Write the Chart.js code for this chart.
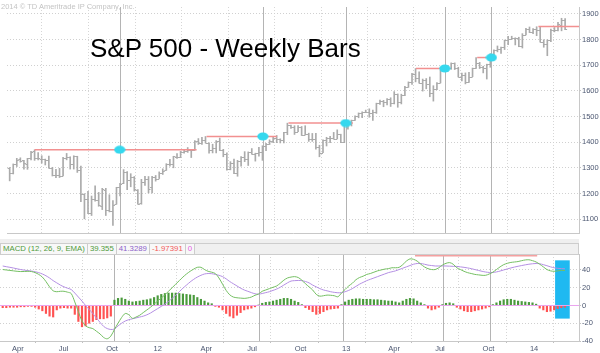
<!DOCTYPE html>
<html>
<head>
<meta charset="utf-8">
<script src="https://cdn.jsdelivr.net/npm/chart.js@4.4.1/dist/chart.umd.min.js"></script>
<style>
  body { margin: 0; background: #fff; }
  #wrap { position: relative; width: 600px; height: 353px; overflow: hidden; font-family: 'Liberation Sans', Arial, sans-serif; }
  #priceChart { position: absolute; left: 0; top: 0; }
  #macdChart { position: absolute; left: 0; top: 240px; }
  #title { position: absolute; left: 90px; top: 35px; font-size: 26px; line-height: 26px; color: #000; white-space: nowrap; }
  #copy { position: absolute; left: 1px; top: 3px; font-size: 7.5px; line-height: 8px; color: #c4c4c4; white-space: nowrap; }
  #sep { position: absolute; left: 0; top: 239px; width: 579px; height: 4px; background: #efefef; }
  #macdHead { position: absolute; left: 0; top: 243px; width: 577px; height: 10px; background: #f0f0f0; border: 1px solid #cdcdcd; font-size: 7.8px; line-height: 10px; display: flex; white-space: nowrap; }
  #macdHead span { padding: 0 2px; border-right: 1px solid #cdcdcd; background: #f8f8f8; }
</style>
</head>
<body>
<div id="wrap">
  <canvas id="priceChart" width="600" height="240"></canvas>
  <canvas id="macdChart" width="600" height="113"></canvas>
  <div id="copy">2014 © TD Ameritrade IP Company, Inc.</div>
  <div id="title">S&amp;P 500 - Weekly Bars</div>
  <div id="sep"></div>
  <div id="macdHead">
    <span style="color:#4f9a3a">MACD (12, 26, 9, EMA)</span>
    <span style="color:#4f9a3a">39.355</span>
    <span style="color:#8d62c9">41.3289</span>
    <span style="color:#f25a5a">-1.97391</span>
    <span style="color:#e25ee2">0</span>
  </div>
</div>
<script>
// weekly bars, index 0 = week of 14 Mar 2011
const openP = [1301,1281,1315,1333,1329,1314,1337,1365,1340,1334,
  1333,1332,1300,1272,1272,1269,1339,1343,1315,1345,
  1292,1199,1179,1124,1177,1173,1153,1214,1136,1131,
  1158,1224,1239,1284,1253,1263,1215,1161,1244,1256,
  1224,1265,1258,1278,1290,1315,1316,1344,1343,1361,
  1366,1370,1371,1404,1397,1408,1397,1370,1378,1403,
  1368,1352,1295,1318,1278,1325,1343,1335,1362,1355,
  1356,1362,1386,1391,1405,1418,1411,1407,1438,1466,
  1460,1441,1461,1428,1433,1411,1414,1380,1359,1409,
  1416,1418,1413,1430,1402,1466,1472,1486,1503,1513,
  1518,1519,1515,1518,1551,1560,1556,1569,1553,1588,
  1555,1582,1614,1633,1667,1650,1631,1643,1626,1593,
  1606,1631,1680,1692,1691,1709,1691,1655,1663,1633,
  1655,1688,1710,1692,1691,1703,1745,1759,1762,1771,
  1798,1804,1806,1805,1775,1818,1841,1831,1842,1838,
  1790,1783,1797,1838,1836,1857,1878];
const highP = [1301,1315,1337,1339,1329,1337,1364,1370,1359,1347,
  1334,1346,1302,1294,1298,1341,1356,1343,1347,1345,
  1307,1199,1208,1190,1230,1204,1220,1220,1195,1172,
  1224,1239,1293,1285,1277,1266,1215,1255,1267,1266,
  1267,1270,1284,1296,1316,1333,1345,1355,1364,1368,
  1379,1372,1406,1414,1419,1422,1397,1392,1406,1416,
  1372,1358,1324,1334,1329,1344,1363,1362,1375,1357,
  1380,1386,1395,1409,1419,1426,1413,1438,1474,1467,
  1464,1465,1461,1464,1435,1434,1434,1388,1409,1419,
  1423,1438,1448,1431,1466,1472,1486,1503,1514,1518,
  1525,1530,1525,1552,1564,1563,1570,1573,1597,1588,
  1587,1618,1635,1668,1687,1674,1646,1648,1654,1620,
  1632,1680,1693,1698,1709,1709,1692,1669,1670,1672,
  1689,1730,1711,1696,1704,1745,1760,1775,1771,1798,
  1813,1813,1807,1809,1823,1844,1849,1843,1850,1850,
  1799,1799,1841,1847,1867,1883,1882];
const lowP = [1249,1276,1305,1322,1295,1294,1331,1329,1331,1318,
  1311,1299,1268,1262,1262,1268,1331,1295,1295,1282,
  1168,1101,1121,1114,1170,1150,1137,1114,1128,1075,
  1158,1190,1238,1215,1226,1209,1158,1158,1231,1202,
  1202,1248,1258,1274,1290,1306,1300,1337,1340,1357,
  1360,1340,1369,1391,1391,1397,1357,1358,1358,1367,
  1343,1291,1292,1277,1267,1306,1324,1309,1353,1326,
  1345,1329,1367,1391,1398,1398,1397,1397,1429,1454,
  1430,1441,1426,1428,1403,1403,1373,1343,1359,1385,
  1398,1412,1413,1398,1398,1451,1463,1485,1495,1495,
  1515,1497,1485,1512,1547,1538,1545,1539,1549,1536,
  1549,1581,1614,1625,1635,1630,1599,1608,1577,1560,
  1605,1631,1675,1676,1684,1683,1654,1639,1627,1633,
  1655,1687,1687,1670,1646,1692,1740,1752,1746,1761,
  1780,1800,1779,1772,1767,1818,1827,1823,1815,1790,
  1770,1737,1792,1830,1834,1834,1839];
const closeP = [1279,1313,1332,1328,1319,1337,1363,1340,1338,1333,
  1331,1300,1271,1271,1268,1340,1344,1316,1345,1292,
  1199,1178,1124,1177,1174,1154,1216,1136,1131,1155,
  1224,1238,1285,1253,1263,1216,1159,1244,1255,1219,
  1265,1258,1278,1289,1315,1316,1345,1343,1361,1366,
  1370,1370,1404,1397,1408,1398,1370,1378,1403,1369,
  1353,1295,1318,1278,1325,1343,1335,1362,1355,1357,
  1362,1386,1391,1405,1418,1411,1407,1438,1466,1460,
  1441,1461,1428,1433,1411,1414,1380,1359,1409,1416,
  1418,1413,1430,1402,1466,1472,1486,1503,1513,1518,
  1519,1515,1518,1551,1560,1556,1569,1553,1588,1555,
  1582,1614,1633,1667,1650,1631,1643,1626,1593,1606,
  1631,1680,1692,1691,1709,1691,1655,1663,1633,1655,
  1688,1710,1692,1691,1703,1745,1759,1762,1771,1798,
  1804,1806,1805,1775,1818,1841,1831,1842,1838,1790,
  1783,1797,1838,1836,1859,1878,1841];

// MACD (12, 26, 9, EMA) panel
const macdLine = [40.5,40,39.5,39,38.5,38.2,38.3,38.5,38.2,37,
  35,32,27,21,16.5,15.5,16,16,15,13.5,
  4,-7,-17.5,-23,-25,-26,-29,-32,-36,-37.5,
  -34.5,-27,-20,-13.5,-9,-10.5,-14.5,-13,-11,-8,
  -5,-2,1.5,5,8.5,12,16,20,24,28,
  32,35.5,38.5,41,43,43,40.5,38.5,37.5,36,
  31,24,17,12,9.5,8.7,8.3,8,8.5,9.5,
  11.5,13,16,17.5,19,20.5,22,25,28.5,31,
  32,32.5,31.5,28.5,24.5,21,17.5,12.5,10.5,11,
  11.7,11.5,11,9.8,14,18,22,25,29,31.5,
  33,35,36,37.5,39,40,41,41.5,42.5,42.5,
  43,46,50,52.5,52,50,46.5,43.5,41.5,40.5,
  40.5,42.5,45.5,47.5,48.3,46.5,42.5,40.5,38.5,37,
  36,35,34.5,34,34,35.5,37.5,40.5,43.5,46,
  47.5,48.5,49,49.5,50.5,51.3,51.5,50.5,49,46.5,
  43.5,40.5,39,38.5,39,39.5,39.4];
const signalLine = [44.5,43.7,43,42.2,41.3,40.5,39.8,39.3,38.8,38,
  37,35.5,33.5,31,28,25.5,23,21,19.5,18,
  14,9.5,5,0,-4.5,-9,-14,-19,-23.5,-26,
  -27,-26.5,-23,-20,-17.5,-16,-15,-14,-13,-12,
  -10.5,-8.5,-6,-3.5,-1,1.5,4.5,8,11.5,15.5,
  19.5,23,26.5,29.5,32,34,35.5,36,35.8,35,
  34,32.5,30,27,24.5,22,19.5,17.5,16,14.5,
  13.2,12.8,13.5,14.5,15.5,17,18.5,20.5,23,25.5,
  27.5,28,28.2,28,27,25.5,23,21,19,17.5,
  16.5,15.5,14.8,14.3,14.5,15.5,17,19,21.5,24,
  26,28,29.5,31,32.5,34,35.5,37,38,39,
  40.5,42,43.5,45,46.5,47.3,47.3,46.5,45.5,45,
  44.5,44.5,44.6,44.5,44.3,44.1,44,43.5,43,42.3,
  41.5,40.5,39.5,38.5,37.7,37.2,37.2,37.8,38.8,40,
  41.2,42.3,43.3,44.2,45,45.8,46.5,47,47.3,47,
  46,44.8,43.5,42.5,41.9,41.5,41.3];
const macdHist = [-2.5,-2.5,-2,-2,-2,-1.5,-1.5,-1,-1,-2,
  -4,-6,-9,-12,-13,-5,-3,-2.5,-3,-3,
  -10,-18,-24,-23,-20,-18,-16,-15,-15,-14,
  -12,6,8,8.5,7,5,4,4.5,5,6,
  6.5,7.5,9,11,12.5,13.5,14,14,14,13.5,
  13,12.5,12,11.5,9,7,5,3,2,-1,
  -2,-5,-9,-12,-14,-11,-8,-5,-4,-3,
  -1.5,0.5,2.5,3.5,4,5,6,7,8,8,
  7,5,3.5,1,-2.5,-4.5,-7,-10,-9,-7,
  -5,-4,-3.5,-3,1,4,6,7,7.5,7.5,
  7,7,7,6.5,6.5,6,5.5,5,5,4,
  3,5,7,8,7.5,5,3,1,-3,-5,
  -4,-2,1,2.5,3,2,-2,-4,-6,-7,
  -7,-6,-5,-4,-3,-1.5,1,3,5,6.5,
  7,7,6,5,4.5,4,3.5,3,1.5,-3,
  -5,-7,-6.5,-5,-3.5,-2.5,-1.97];
const zeroLevel = 0;

// axis ticks (in weeks from the first bar)
const monthTickPos = [2.57, 15.57, 28.71, 41.86, 54.86, 67.86, 81, 94.14, 107, 120, 133.14, 146.29];
const monthTickLabels = ['Apr', 'Jul', 'Oct', '12', 'Apr', 'Jul', 'Oct', '13', 'Apr', 'Jul', 'Oct', '14'];
const priceTicks = [1100, 1200, 1300, 1400, 1500, 1600, 1700, 1800, 1900];
const macdTicks = [-40, -20, 0, 20, 40];

// hand-drawn annotations
const crossWeeks = [30.9, 71.1, 94.4, 122.2, 135.3];
const markLevels = [1370.6, 1422.4, 1474.5, 1687.2, 1729.9];
const resLevels = [1370.6, 1422.4, 1474.5, 1687.2, 1729.9, 1850.8];
const resFrom = [7, 55.3, 78.3, 114.1, 131.3, 148.5];
const resTo = [52.5, 75, 96.4, 122.6, 135.8, 159.9];
const macdResLevel = 56;
const macdResFrom = 114.4;
const macdResTo = 148.3;
const boxWeek = 155.3;
const boxRange = [-14.4, 50.5];

const xMin = -0.75, xMax = 159.9;
const barColor = '#ababab';
const gridColor = '#d0d0d0';
const labelColor = '#4b5670';
const fontFamily = "'Liberation Sans', Arial, sans-serif";

Chart.defaults.font.family = fontFamily;
Chart.defaults.animation = false;

function ellipseMarker() {
    const c = document.createElement('canvas');
    c.width = 12;
    c.height = 9;
    const g = c.getContext('2d');
    g.fillStyle = '#35d8ee';
    g.beginPath();
    g.ellipse(6, 4.5, 5.6, 4, 0, 0, Math.PI * 2);
    g.fill();
    return c;
}

// vertical annotation lines at the MACD crossovers
const crossLinesPlugin = {
    id: 'crossLines',
    beforeDatasetsDraw(chart) {
        const { ctx, chartArea, scales: { x } } = chart;
        ctx.save();
        ctx.strokeStyle = '#b4b4b4';
        ctx.lineWidth = 1;
        crossWeeks.forEach(w => {
            const px = Math.round(x.getPixelForValue(w)) + 0.5;
            ctx.beginPath();
            ctx.moveTo(px, chartArea.top);
            ctx.lineTo(px, chartArea.bottom);
            ctx.stroke();
        });
        ctx.restore();
    }
};

// open (left) and close (right) ticks of each weekly bar
const ohlcTicksPlugin = {
    id: 'ohlcTicks',
    afterDatasetDraw(chart, args) {
        if (args.index !== 0) return;
        const { ctx, scales: { x, y } } = chart;
        ctx.save();
        ctx.strokeStyle = barColor;
        ctx.lineWidth = 1;
        ctx.beginPath();
        for (let i = 0; i < openP.length; i++) {
            const px = x.getPixelForValue(i);
            const yo = Math.round(y.getPixelForValue(openP[i])) + 0.5;
            const yc = Math.round(y.getPixelForValue(closeP[i])) + 0.5;
            ctx.moveTo(px - 2, yo);
            ctx.lineTo(px, yo);
            ctx.moveTo(px, yc);
            ctx.lineTo(px + 2, yc);
        }
        ctx.stroke();
        ctx.restore();
    }
};

function xScale(showLabels) {
    return {
        type: 'linear',
        min: xMin,
        max: xMax,
        offset: false,
        afterBuildTicks: s => { s.ticks = monthTickPos.map(v => ({ value: v })); },
        afterFit: s => { s.height = showLabels ? 12 : 1; },
        grid: { color: '#d6d6d6', drawTicks: showLabels, tickLength: 2, tickColor: '#c0c0c0' },
        border: { color: '#c8c8c8', dash: [1, 2] },
        ticks: {
            display: showLabels,
            autoSkip: false,
            maxRotation: 0,
            align: 'start',
            padding: 1,
            color: labelColor,
            font: { size: 7.5 },
            callback: (v, idx) => monthTickLabels[idx]
        }
    };
}

function yScale(min, max, tickList) {
    return {
        position: 'right',
        min: min,
        max: max,
        afterBuildTicks: s => { s.ticks = tickList.map(v => ({ value: v })); },
        afterFit: s => { s.width = 21; },
        grid: { color: gridColor, tickLength: 2, tickColor: '#c0c0c0' },
        border: { color: '#c8c8c8', dash: [1, 2] },
        ticks: { padding: 1, color: labelColor, font: { size: 7.5 }, callback: v => String(v) }
    };
}

const commonOptions = {
    responsive: false,
    devicePixelRatio: 1,
    plugins: { legend: { display: false }, tooltip: { enabled: false } }
};

// ===== upper panel: weekly bars =====
new Chart(document.getElementById('priceChart'), {
    type: 'bar',
    data: {
        datasets: [
            {
                type: 'bar',
                data: highP.map((h, i) => ({ x: i, y: [lowP[i], h] })),
                backgroundColor: barColor,
                barThickness: 1,
                grouped: false,
                order: 5
            },
            ...resLevels.map((lv, k) => ({
                type: 'line',
                data: [{ x: resFrom[k], y: lv }, { x: resTo[k], y: lv }],
                borderColor: '#f29090',
                borderWidth: 1.5,
                pointRadius: 0,
                order: 3
            })),
            {
                type: 'line',
                data: crossWeeks.map((w, k) => ({ x: w, y: markLevels[k] })),
                showLine: false,
                pointStyle: ellipseMarker(),
                pointRadius: 6,
                order: 1
            }
        ]
    },
    options: {
        ...commonOptions,
        layout: { padding: 0 },
        scales: {
            x: xScale(false),
            y: yScale(1045.8, 1926.9, priceTicks)
        }
    },
    plugins: [crossLinesPlugin, ohlcTicksPlugin]
});

// ===== lower panel: MACD =====
new Chart(document.getElementById('macdChart'), {
    type: 'bar',
    data: {
        datasets: [
            {
                type: 'bar',
                data: [{ x: boxWeek, y: boxRange }],
                backgroundColor: '#1fb9f1',
                barThickness: 14,
                grouped: false,
                order: 10
            },
            {
                type: 'bar',
                data: macdHist.map((v, i) => ({ x: i, y: v })),
                backgroundColor: macdHist.map(v => v >= 0 ? '#4a9a3c' : '#ff5252'),
                barThickness: 1.5,
                grouped: false,
                order: 6
            },
            {
                type: 'line',
                data: [{ x: xMin, y: zeroLevel }, { x: xMax, y: zeroLevel }],
                borderColor: '#eaa4ef',
                borderWidth: 1,
                pointRadius: 0,
                order: 5
            },
            {
                type: 'line',
                data: [{ x: macdResFrom, y: macdResLevel }, { x: macdResTo, y: macdResLevel }],
                borderColor: '#f4a0a0',
                borderWidth: 1.5,
                pointRadius: 0,
                order: 4
            },
            {
                type: 'line',
                data: signalLine.map((v, i) => ({ x: i, y: v })),
                borderColor: '#b48fe3',
                borderWidth: 1,
                pointRadius: 0,
                tension: 0.3,
                order: 2
            },
            {
                type: 'line',
                data: macdLine.map((v, i) => ({ x: i, y: v })),
                borderColor: '#74bf62',
                borderWidth: 1,
                pointRadius: 0,
                tension: 0.3,
                order: 1
            }
        ]
    },
    options: {
        ...commonOptions,
        layout: { padding: { top: 14, left: 0, right: 0, bottom: 0 } },
        scales: {
            x: xScale(true),
            y: yScale(-40, 58, macdTicks)
        }
    },
    plugins: [crossLinesPlugin]
});
</script>
</body>
</html>
